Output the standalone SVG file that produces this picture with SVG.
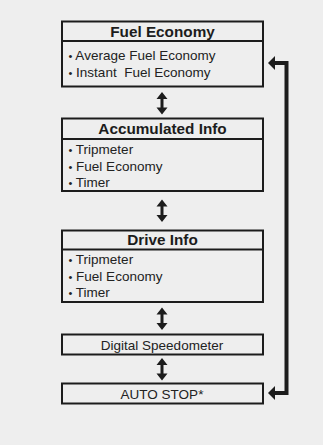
<svg xmlns="http://www.w3.org/2000/svg" width="323" height="445" viewBox="0 0 323 445">
<style>
.box{fill:#eeeeee;stroke:#1c1c1c;stroke-width:2}
.div{stroke:#1c1c1c;stroke-width:2}
.t{font-family:"Liberation Sans",Arial,sans-serif;font-weight:bold;font-size:15.3px;fill:#1c1c1c;text-anchor:middle}
.b{font-family:"Liberation Sans",Arial,sans-serif;font-size:13.5px;fill:#222222;white-space:pre}
.d{font-size:11px}
.c{text-anchor:middle}
.arr{fill:#1c1c1c}
.ln{fill:none;stroke:#1c1c1c;stroke-width:4}
</style>
<defs>
<path id="dbl" class="arr" d="M0,0 L5.5,7 L1.5,7 L1.5,15.5 L5.5,15.5 L0,22.5 L-5.5,15.5 L-1.5,15.5 L-1.5,7 L-5.5,7 Z"/>
</defs>
<rect x="0" y="0" width="323" height="445" fill="#eeeeee"/>
<g id="fuel-economy">
<rect class="box" x="62" y="21.5" width="201" height="65"/>
<line class="div" x1="62" y1="41" x2="263" y2="41"/>
<text class="t" x="162.5" y="36.5">Fuel Economy</text>
<text class="b" x="68.5" y="60"><tspan class="d">•</tspan> Average Fuel Economy</text>
<text class="b" x="68.5" y="76.5" xml:space="preserve"><tspan class="d">•</tspan> Instant  Fuel Economy</text>
</g>
<g id="accumulated-info">
<rect class="box" x="62" y="118.5" width="201" height="72.5"/>
<line class="div" x1="62" y1="139" x2="263" y2="139"/>
<text class="t" x="162.5" y="134">Accumulated Info</text>
<text class="b" x="68.5" y="154"><tspan class="d">•</tspan> Tripmeter</text>
<text class="b" x="68.5" y="171"><tspan class="d">•</tspan> Fuel Economy</text>
<text class="b" x="68.5" y="187"><tspan class="d">•</tspan> Timer</text>
</g>
<g id="drive-info">
<rect class="box" x="62" y="230.5" width="201" height="71.5"/>
<line class="div" x1="62" y1="249.5" x2="263" y2="249.5"/>
<text class="t" x="162.5" y="245">Drive Info</text>
<text class="b" x="68.5" y="264"><tspan class="d">•</tspan> Tripmeter</text>
<text class="b" x="68.5" y="280.5"><tspan class="d">•</tspan> Fuel Economy</text>
<text class="b" x="68.5" y="297"><tspan class="d">•</tspan> Timer</text>
</g>
<g id="digital-speedometer">
<rect class="box" x="62" y="334.5" width="201" height="20"/>
<text class="b c" x="162" y="349.5">Digital Speedometer</text>
</g>
<g id="auto-stop">
<rect class="box" x="62" y="383.5" width="201" height="20"/>
<text class="b c" x="162" y="398.5">AUTO STOP*</text>
</g>
<g id="connectors">
<use href="#dbl" x="162" y="92"/>
<use href="#dbl" x="162" y="199.5"/>
<use href="#dbl" x="162" y="307.5"/>
<use href="#dbl" x="162" y="358"/>
<polyline class="ln" points="274,63 286.5,63 286.5,393 274,393"/>
<polygon class="arr" points="268,63 275,56 275,70"/>
<polygon class="arr" points="268,393 275,386 275,400"/>
</g>
</svg>
